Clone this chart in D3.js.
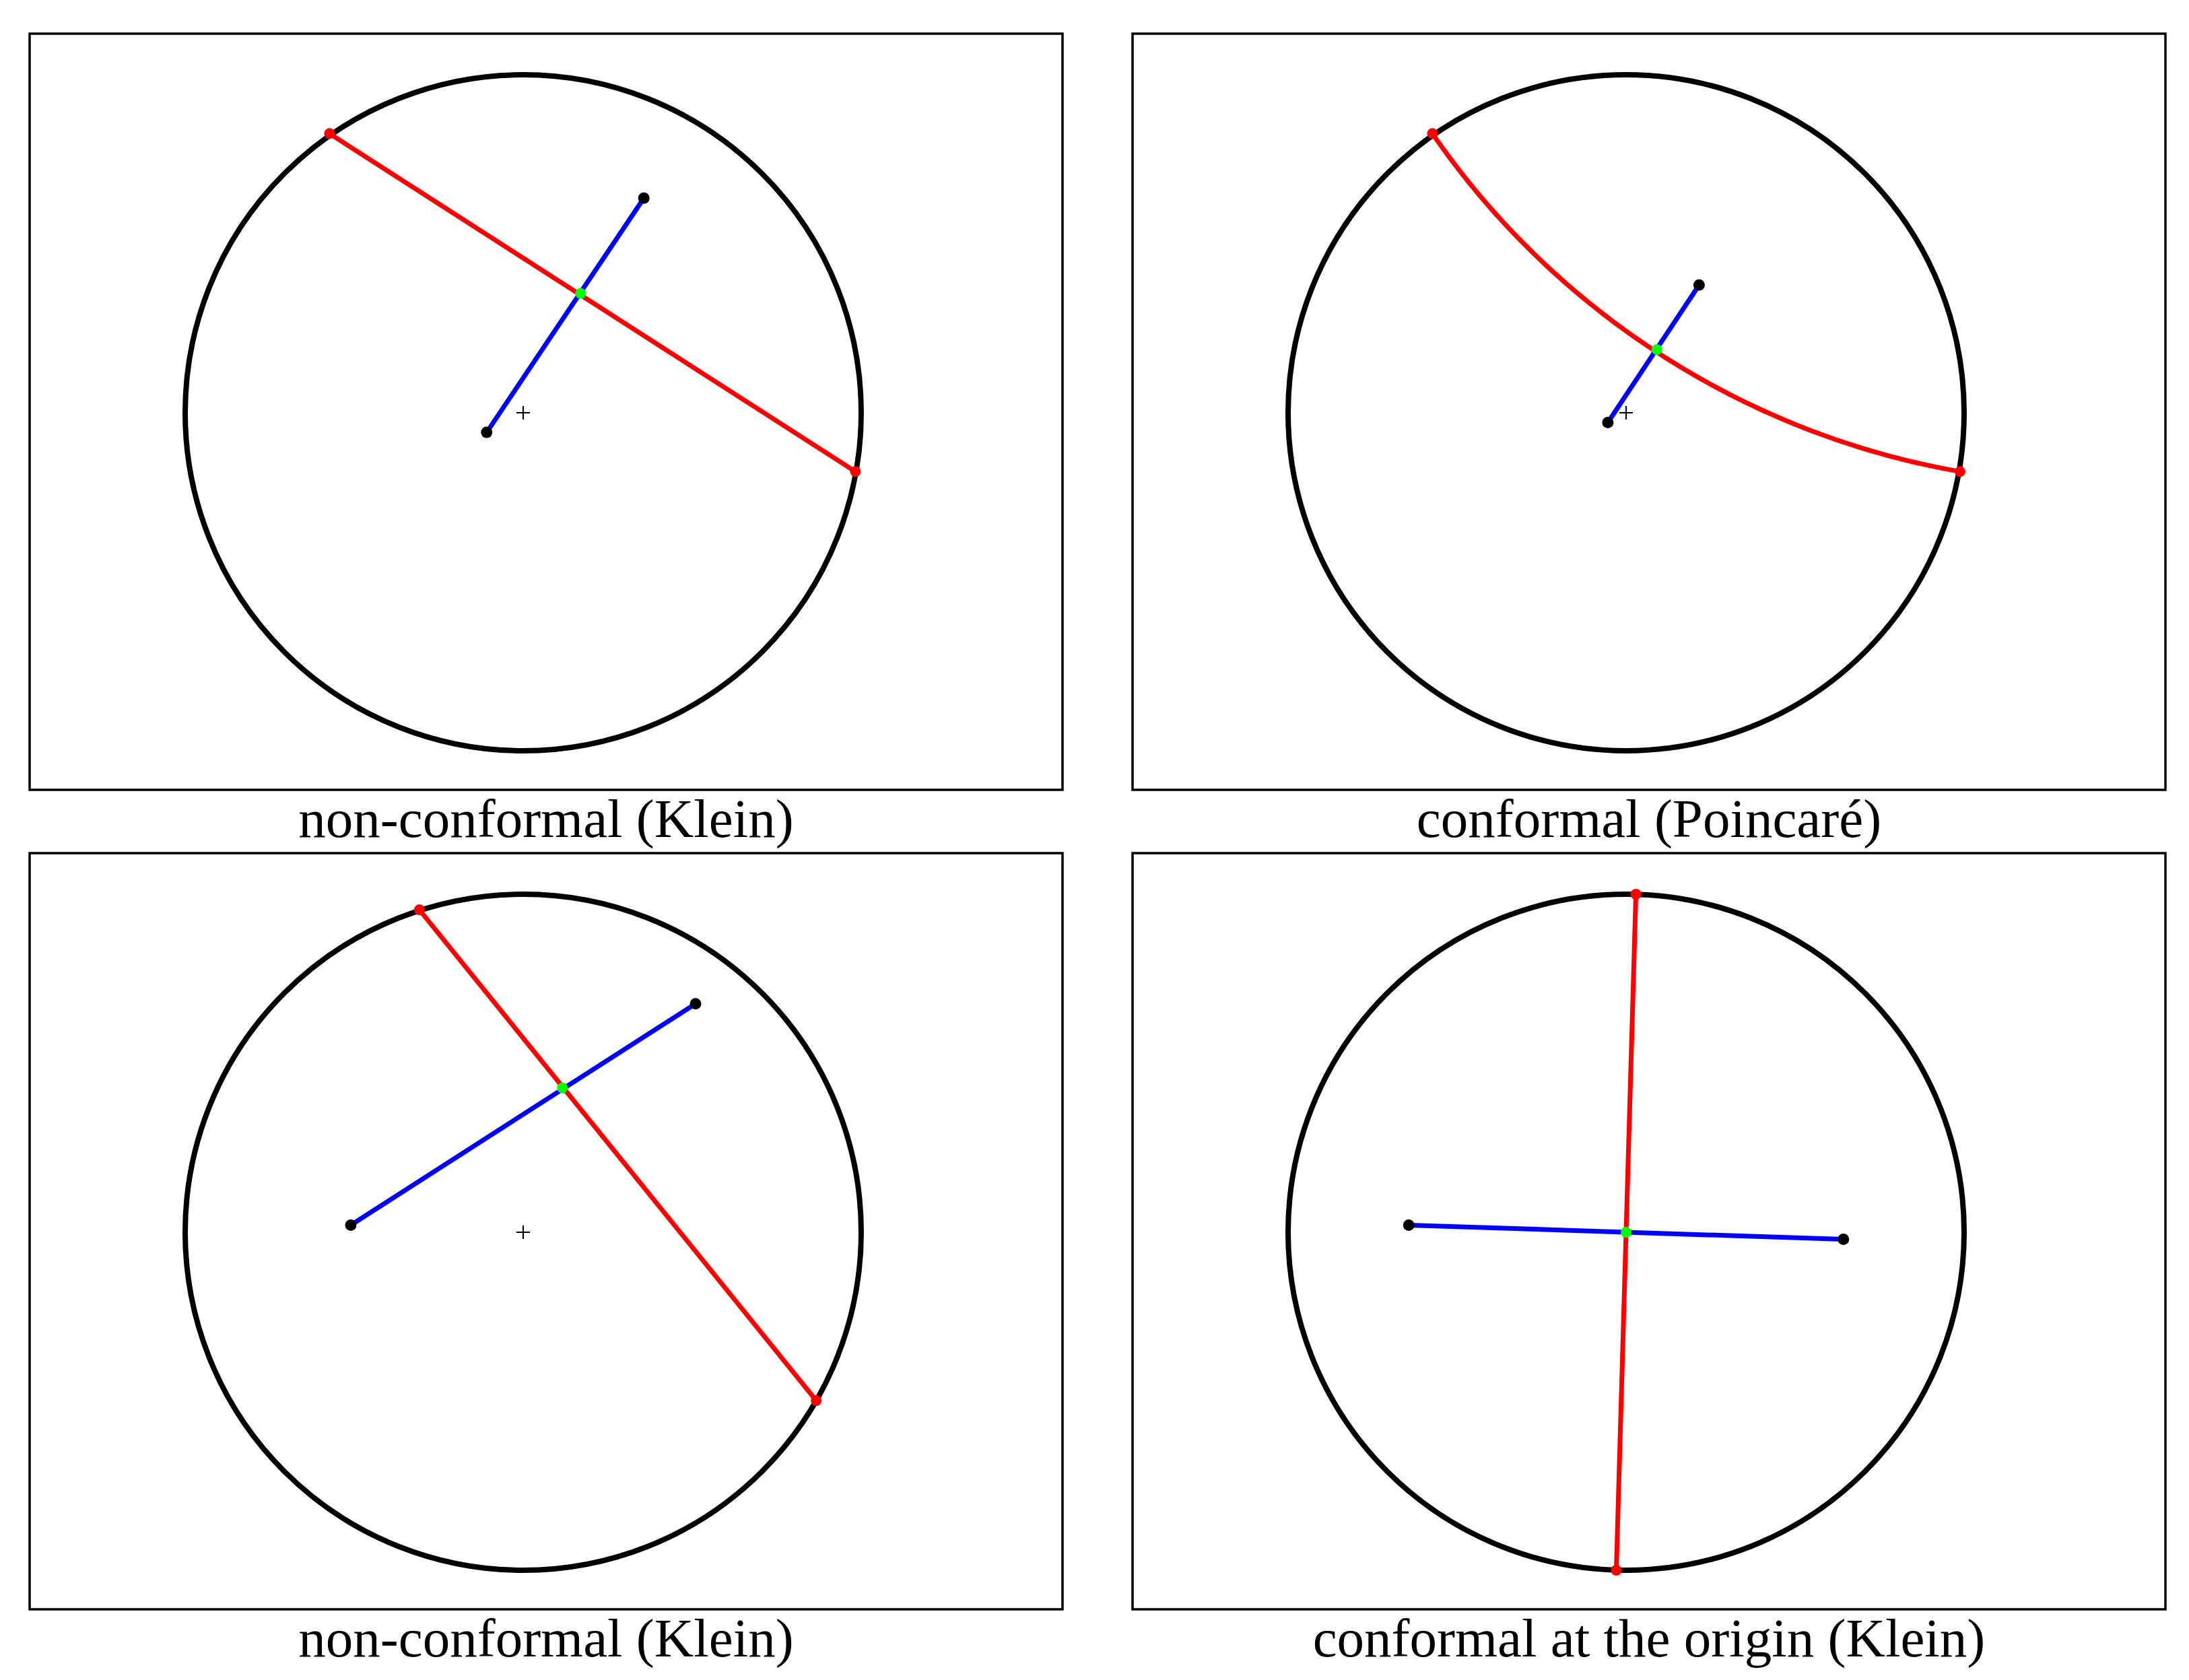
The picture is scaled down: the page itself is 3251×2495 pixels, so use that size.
<!DOCTYPE html>
<html><head><meta charset="utf-8">
<script src="https://cdn.jsdelivr.net/npm/d3@7"></script>
<style>body{margin:0;background:#fff}</style>
</head><body>
<script>
// Panel definitions (unit-disk coordinates)
const titles = ["non-conformal (Klein)", "conformal (Poincaré)", "non-conformal (Klein)", "conformal at the origin (Klein)"];
const redEnds = [[[-0.573,0.826],[0.983,-0.174]], [[-0.573,0.826],[0.988,-0.174]], [[-0.307,0.954],[0.867,-0.498]], [[0.029,1.0],[-0.029,-1.0]]];
const blueEnds = [[[-0.108,-0.058],[0.357,0.635]], [[-0.054,-0.029],[0.216,0.378]], [[-0.510,0.021],[0.510,0.676]], [[-0.643,0.021],[0.643,-0.021]]];
const greenPts = [[0.170,0.353],[0.091,0.187],[0.116,0.427],[0,0]];
const redArc = [false, true, false, false];
const showPlus = [true, true, true, false];

const W=3251,H=2495;
const svg=d3.select("body").append("svg").attr("width",W).attr("height",H);
const frames=[[44,50],[1682,50],[44,1267],[1682,1267]];
const fw=1534, fh=1123;
const R=502;
frames.forEach(([fx,fy],i)=>{
  const cx=fx+733, cy=fy+563;
  const x=d3.scaleLinear().domain([-1,1]).range([cx-R,cx+R]);
  const y=d3.scaleLinear().domain([-1,1]).range([cy+R,cy-R]);
  const g=svg.append("g");
  g.append("rect").attr("x",fx).attr("y",fy).attr("width",fw).attr("height",fh)
    .attr("fill","none").attr("stroke","#000").attr("stroke-width",3.5);
  g.append("circle").attr("cx",x(0)).attr("cy",y(0)).attr("r",x(1)-x(0))
    .attr("fill","none").attr("stroke","#000").attr("stroke-width",8);
  if(showPlus[i]){
    g.append("path").attr("d",`M${x(0)-10},${y(0)}h20M${x(0)},${y(0)-10}v20`)
      .attr("stroke","#000").attr("stroke-width",2.2);
  }
  const [p1,p2]=redEnds[i];
  if(redArc[i]){
    const a1=Math.atan2(p1[1],p1[0]), a2=Math.atan2(p2[1],p2[0]);
    let d=a1-a2; const half=Math.abs(d)/2, mid=(a1+a2)/2;
    const dist=1/Math.cos(half), rr=Math.tan(half);
    const c=[dist*Math.cos(mid),dist*Math.sin(mid)];
    const t1=Math.atan2(p1[1]-c[1],p1[0]-c[0]), t2=Math.atan2(p2[1]-c[1],p2[0]-c[0]);
    let dt=t2-t1; if(dt>Math.PI)dt-=2*Math.PI; if(dt<-Math.PI)dt+=2*Math.PI;
    const pts=d3.range(0,101).map(k=>{const t=t1+dt*k/100;return [c[0]+rr*Math.cos(t),c[1]+rr*Math.sin(t)];});
    g.append("path").attr("d",d3.line().x(p=>x(p[0])).y(p=>y(p[1]))(pts))
      .attr("fill","none").attr("stroke","#ff0000").attr("stroke-width",7);
  } else {
    g.append("line").attr("x1",x(p1[0])).attr("y1",y(p1[1])).attr("x2",x(p2[0])).attr("y2",y(p2[1]))
      .attr("stroke","#ff0000").attr("stroke-width",7);
  }
  const [b1,b2]=blueEnds[i];
  g.append("line").attr("x1",x(b1[0])).attr("y1",y(b1[1])).attr("x2",x(b2[0])).attr("y2",y(b2[1]))
    .attr("stroke","#0000ff").attr("stroke-width",7);
  [p1,p2].forEach(p=>g.append("circle").attr("cx",x(p[0])).attr("cy",y(p[1])).attr("r",8).attr("fill","#ff0000"));
  [b1,b2].forEach(p=>g.append("circle").attr("cx",x(p[0])).attr("cy",y(p[1])).attr("r",8.5).attr("fill","#000"));
  g.append("circle").attr("cx",x(greenPts[i][0])).attr("cy",y(greenPts[i][1])).attr("r",8).attr("fill","#00ff00");
  g.append("text").attr("x",fx+fw/2).attr("y",fy+fh+70).attr("text-anchor","middle")
    .attr("font-family","'Liberation Serif','DejaVu Serif',serif").attr("font-size",81)
    .text(titles[i]);
});
</script>
</body></html>
